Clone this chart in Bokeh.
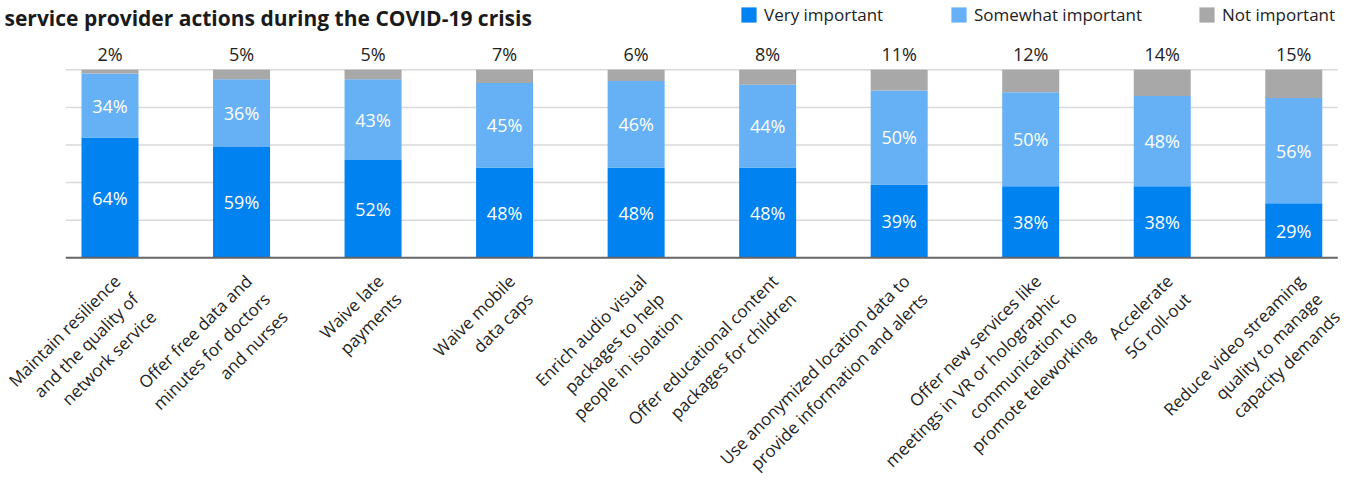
import math
from bokeh.plotting import figure
from bokeh.models import ColumnDataSource, Range1d, Legend, LegendItem
from bokeh.core.properties import value
from bokeh.embed import file_html
from bokeh.resources import INLINE

# ---------------- data ----------------
categories = [
    "Maintain resilience\nand the quality of\nnetwork service",
    "Offer free data and\nminutes for doctors\nand nurses",
    "Waive late\npayments",
    "Waive mobile\ndata caps",
    "Enrich audio visual\npackages to help\npeople in isolation",
    "Offer educational content\npackages for children",
    "Use anonymized location data to\nprovide information and alerts",
    "Offer new services like\nmeetings in VR or holographic\ncommunication to\npromote teleworking",
    "Accelerate\n5G roll-out",
    "Reduce video streaming\nquality to manage\ncapacity demands",
]
very_important = [64, 59, 52, 48, 48, 48, 39, 38, 38, 29]
somewhat_important = [34, 36, 43, 45, 46, 44, 50, 50, 48, 56]
not_important = [2, 5, 5, 7, 6, 8, 11, 12, 14, 15]
series_names = ["Very important", "Somewhat important", "Not important"]
series_colors = ["#0082F0", "#66B1F5", "#A8A8A8"]
grid_ticks = [20, 40, 60, 80, 100]
title_text = "service provider actions during the COVID-19 crisis"

FONT = "Open Sans"

# ---------------- layout (pixels) ----------------
W, H = 1354, 480
CX0 = 109.5          # x of first category centre
DX = 131.53          # pixels per category
BASE_Y = 257.3       # y of 0 %
PXPCT = 1.88         # pixels per percent
AX_L, AX_R = 65.3, 1337.3

x_start = (0 - CX0) / DX
x_end = (W - CX0) / DX
y_end = BASE_Y / PXPCT
y_start = -(H - BASE_Y) / PXPCT
ax_left = (AX_L - CX0) / DX
ax_right = (AX_R - CX0) / DX

n = len(categories)
xs = list(range(n))

src = ColumnDataSource(dict(
    x=xs,
    very=very_important,
    some=somewhat_important,
    nott=not_important,
    very_mid=[v / 2 for v in very_important],
    some_mid=[v + s / 2 for v, s in zip(very_important, somewhat_important)],
    very_lbl=[f"{v}%" for v in very_important],
    some_lbl=[f"{s}%" for s in somewhat_important],
    not_lbl=[f"{t}%" for t in not_important],
    top=[v + s + t for v, s, t in zip(very_important, somewhat_important, not_important)],
    cat=categories,
))

p = figure(width=W, height=H, x_range=Range1d(x_start, x_end), y_range=Range1d(y_start, y_end),
           min_border=0, x_axis_location=None, y_axis_location=None,
           outline_line_color=None, toolbar_location=None, output_backend="svg")
p.xgrid.visible = False
p.ygrid.visible = False
p.background_fill_color = "white"
p.border_fill_color = "white"

# gridlines
p.segment(x0=[ax_left] * len(grid_ticks), x1=[ax_right] * len(grid_ticks),
          y0=grid_ticks, y1=grid_ticks, line_color="#d9d9d9", line_width=1.5)

# stacked bars
bar_w = 57 / DX
rs = p.vbar_stack(["very", "some", "nott"], x="x", width=bar_w, source=src,
                  color=series_colors, line_color=None)

# baseline axis
p.segment(x0=[ax_left], x1=[ax_right], y0=[0], y1=[0], line_color="#666666", line_width=2)

# inside labels
p.text(x="x", y="very_mid", text="very_lbl", source=src, text_color="white",
       text_font=value(FONT), text_font_size="18px", text_align="center", text_baseline="middle")
p.text(x="x", y="some_mid", text="some_lbl", source=src, text_color="white",
       text_font=value(FONT), text_font_size="18px", text_align="center", text_baseline="middle")
# top labels
p.text(x="x", y="top", text="not_lbl", source=src, text_color="#222222", y_offset=-16,
       text_font=value(FONT), text_font_size="18px", text_align="center",
       text_baseline="middle")

# category labels (rotated)
p.text(x="x", y=0, text="cat", source=src, angle=math.pi / 4, x_offset=-1, y_offset=12,
       text_color="#222222", text_font=value(FONT), text_font_size="17px",
       text_align="right", text_baseline="top", text_line_height=1.1)

# title
p.text(x=[x_start], y=[(BASE_Y - 17) / PXPCT], text=[title_text], text_color="#1a1a1a",
       x_offset=4, text_font=value(FONT), text_font_size="21px", text_font_style="bold",
       text_align="left", text_baseline="middle")

# legends, one per item for exact placement
leg_x = [739, 949, 1197]
for name, r, lx in zip(series_names, rs, leg_x):
    lg = Legend(items=[LegendItem(label=name, renderers=[r])], location=(lx, H - 26),
                orientation="horizontal", glyph_width=19, glyph_height=19, label_height=19,
                label_standoff=6, padding=0, margin=0, spacing=0,
                border_line_color=None, background_fill_alpha=0,
                label_text_font=FONT, label_text_font_size="17px", label_text_color="#222222")
    p.add_layout(lg)

open("out.html", "w").write(file_html(p, INLINE))
